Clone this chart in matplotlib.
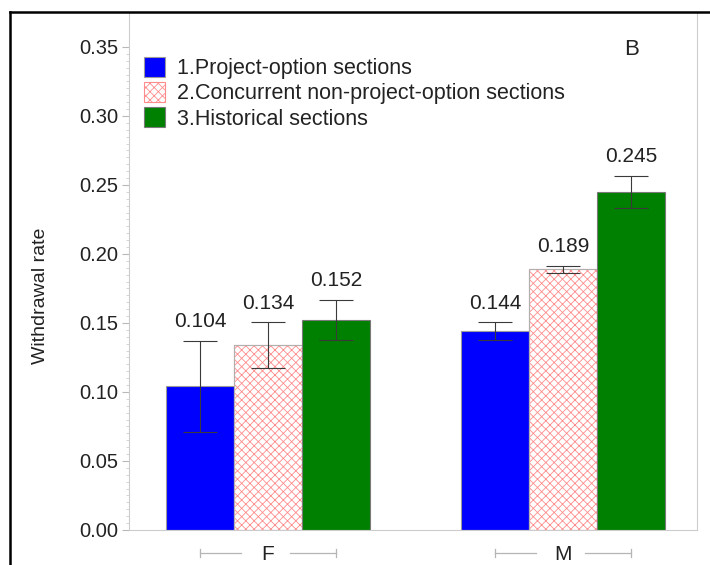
import numpy as np
import matplotlib.pyplot as plt
from matplotlib.lines import Line2D

plt.rcParams['font.family'] = ['Liberation Sans', 'DejaVu Sans']
plt.rcParams['hatch.linewidth'] = 0.6

groups = ['F', 'M']
series = ['1.Project-option sections',
          '2.Concurrent non-project-option sections',
          '3.Historical sections']
rates = [[0.104, 0.144],
         [0.134, 0.189],
         [0.152, 0.245]]
errs = [[0.033, 0.0065],
        [0.0165, 0.0025],
        [0.0145, 0.0115]]
labels = [['0.104', '0.144'],
          ['0.134', '0.189'],
          ['0.152', '0.245']]

fig = plt.figure(figsize=(7.1, 5.65), dpi=100)
ax = fig.add_axes([0.1817, 0.062, 0.8, 0.915])

x = np.arange(len(groups))
w = 0.23
offs = [-w, 0, w]
styles = [dict(color='#0000ff', edgecolor='#9a9a9a'),
          dict(color='white', edgecolor='#ff8c8c', hatch='xxxx'),
          dict(color='#008000', edgecolor='#7a7a7a')]

for i in range(3):
    bars = ax.bar(x + offs[i], rates[i], w, label=series[i], linewidth=0.8,
                  **styles[i])
    if i == 1:
        for b in bars:
            ax.add_patch(plt.Rectangle(b.get_xy(), b.get_width(), b.get_height(),
                                       fill=False, edgecolor='#b0b0b0', lw=0.8))
    ax.errorbar(x + offs[i], rates[i], yerr=errs[i], fmt='none',
                ecolor='#3a3a3a', elinewidth=0.8, capsize=12, capthick=0.8)
    for xi, v, e, t in zip(x + offs[i], rates[i], errs[i], labels[i]):
        ax.annotate(t, (xi, v + e), xytext=(0, 7), textcoords='offset points',
                    ha='center', va='bottom', fontsize=15, color='#222222')

ax.set_xlim(-0.471, 1.454)
ax.set_ylim(0, 0.3746)
ax.set_yticks(np.arange(0, 0.351, 0.05))
ax.set_yticks(np.arange(0, 0.351, 0.005), minor=True)
ax.yaxis.set_major_formatter(plt.FormatStrFormatter('%.2f'))
ax.tick_params(axis='y', which='major', length=5, color='#b8b8b8',
               labelsize=14.5, labelcolor='#222222', pad=3)
ax.tick_params(axis='y', which='minor', length=2.5, color='#cfcfcf')
ax.set_xticks(x)
ax.set_xticklabels(groups)
ax.tick_params(axis='x', length=0, labelsize=15, labelcolor='#222222', pad=11)
ax.set_ylabel('Withdrawal rate', fontsize=14, color='#222222')
ax.yaxis.set_label_coords(-0.14, 0.453)

for s in ['left', 'bottom', 'right']:
    ax.spines[s].set_color('#cccccc')
ax.spines['top'].set_visible(False)

# group brackets around the F / M labels
tr = ax.get_xaxis_transform()
for xc in x:
    for a, b in [(xc - w, xc - 0.09), (xc + 0.075, xc + w)]:
        ax.plot([a, b], [-0.044, -0.044], color='#b5b5b5', lw=0.9,
                transform=tr, clip_on=False)
    for e in (xc - w, xc + w):
        ax.plot([e, e], [-0.052, -0.036], color='#b5b5b5', lw=0.9,
                transform=tr, clip_on=False)

ax.text(0.885, 0.93, 'B', transform=ax.transAxes, fontsize=16,
        ha='center', va='center', color='#222222')

ax.legend(loc='upper left', bbox_to_anchor=(0.011, 0.932), frameon=False,
          fontsize=15.5, handlelength=1.0, handleheight=1.05,
          handletextpad=0.55, labelspacing=0.14, borderaxespad=0,
          labelcolor='#222222')

# outer frame lines
fig.add_artist(Line2D([10 / 710, 1], [1 - 12 / 565, 1 - 12 / 565],
                      color='black', lw=1.8, transform=fig.transFigure))
fig.add_artist(Line2D([10 / 710, 10 / 710], [0, 1 - 12 / 565],
                      color='black', lw=1.8, transform=fig.transFigure))

fig.savefig('out.png', dpi=100)
